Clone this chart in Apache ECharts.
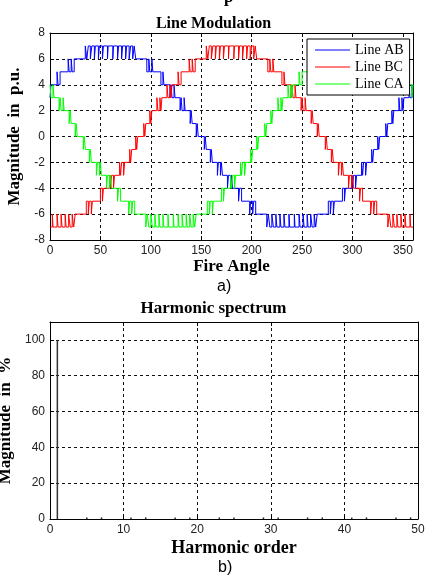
<!DOCTYPE html>
<html>
<head>
<meta charset="utf-8">
<title>Line Modulation</title>
<script src="https://cdn.jsdelivr.net/npm/echarts@6/dist/echarts.min.js"></script>
</head>
<body style="margin:0;padding:0;background:#fff;">
<div id="main" style="width:427px;height:575px;"></div>
<script type="text/javascript">
// step points [fire angle, level]; level holds until the next angle
var lineAB = [
[0,3],[1,4],[7,5],[8,4],[10,5],[18,6],[19,5],[21,6],[22,5],[24,6],
[35,7],[36.5,6],[38,7],[40,6],[41.5,7],[44,6],[45,7],[48,6],[49,7],[52,6],[53,7],[57,6],[57.7,7],[62.3,6],[63,7],[67,6],[68,7],[71,6],[72,7],[75,6],[76,7],[78.5,6],[80,7],[82,6],[83.5,7],[85,6],
[96,5],[98,6],[99,5],[101,6],[102,5],[110,4],[112,5],[113,4],[119,3],[120,4],[121,3],[123,4],[124,3],[129,2],[130,3],[131,2],[133,3],[134,2],[139,1],[140,2],[141,1],[145,0],[146,1],[147,0],
[153,-1],[154,0],[155,-1],[159,-2],[160,-1],[161,-2],[166,-3],[167,-2],[169,-3],[170,-2],[171,-3],[176,-4],[177,-3],[179,-4],[180,-3],[181,-4],[187,-5],[188,-4],[190,-5],[198,-6],[199,-5],[201,-6],[202,-5],[204,-6],
[215,-7],[216.5,-6],[218,-7],[220,-6],[221.5,-7],[224,-6],[225,-7],[228,-6],[229,-7],[232,-6],[233,-7],[237,-6],[237.7,-7],[242.3,-6],[243,-7],[247,-6],[248,-7],[251,-6],[252,-7],[255,-6],[256,-7],[258.5,-6],[260,-7],[262,-6],[263.5,-7],[265,-6],
[276,-5],[278,-6],[279,-5],[281,-6],[282,-5],[290,-4],[292,-5],[293,-4],[299,-3],[300,-4],[301,-3],[303,-4],[304,-3],[309,-2],[310,-3],[311,-2],[313,-3],[314,-2],[319,-1],[320,-2],[321,-1],[325,0],[326,-1],[327,0],
[333,1],[334,0],[335,1],[339,2],[340,1],[341,2],[346,3],[347,2],[349,3],[350,2],[351,3],[356,4],[357,3],[359,4],[360,3]
];
var lineBC = [
[0,-7],[2.3,-6],[3,-7],[7,-6],[8,-7],[11,-6],[12,-7],[15,-6],[16,-7],[18.5,-6],[20,-7],[22,-6],[23.5,-7],[25,-6],
[36,-5],[38,-6],[39,-5],[41,-6],[42,-5],[50,-4],[52,-5],[53,-4],[59,-3],[60,-4],[61,-3],[63,-4],[64,-3],[69,-2],[70,-3],[71,-2],[73,-3],[74,-2],[79,-1],[80,-2],[81,-1],[85,0],[86,-1],[87,0],
[93,1],[94,0],[95,1],[99,2],[100,1],[101,2],[106,3],[107,2],[109,3],[110,2],[111,3],[116,4],[117,3],[119,4],[120,3],[121,4],[127,5],[128,4],[130,5],[138,6],[139,5],[141,6],[142,5],[144,6],
[155,7],[156.5,6],[158,7],[160,6],[161.5,7],[164,6],[165,7],[168,6],[169,7],[172,6],[173,7],[177,6],[177.7,7],[182.3,6],[183,7],[187,6],[188,7],[191,6],[192,7],[195,6],[196,7],[198.5,6],[200,7],[202,6],[203.5,7],[205,6],
[216,5],[218,6],[219,5],[221,6],[222,5],[230,4],[232,5],[233,4],[239,3],[240,4],[241,3],[243,4],[244,3],[249,2],[250,3],[251,2],[253,3],[254,2],[259,1],[260,2],[261,1],[265,0],[266,1],[267,0],
[273,-1],[274,0],[275,-1],[279,-2],[280,-1],[281,-2],[286,-3],[287,-2],[289,-3],[290,-2],[291,-3],[296,-4],[297,-3],[299,-4],[300,-3],[301,-4],[307,-5],[308,-4],[310,-5],[318,-6],[319,-5],[321,-6],[322,-5],[324,-6],
[335,-7],[336.5,-6],[338,-7],[340,-6],[341.5,-7],[344,-6],[345,-7],[348,-6],[349,-7],[352,-6],[353,-7],[357,-6],[357.7,-7],[360,-7]
];
var lineCA = [
[0,4],[1,3],[3,4],[4,3],[9,2],[10,3],[11,2],[13,3],[14,2],[19,1],[20,2],[21,1],[25,0],[26,1],[27,0],
[33,-1],[34,0],[35,-1],[39,-2],[40,-1],[41,-2],[46,-3],[47,-2],[49,-3],[50,-2],[51,-3],[56,-4],[57,-3],[59,-4],[60,-3],[61,-4],[67,-5],[68,-4],[70,-5],[78,-6],[79,-5],[81,-6],[82,-5],[84,-6],
[95,-7],[96.5,-6],[98,-7],[100,-6],[101.5,-7],[104,-6],[105,-7],[108,-6],[109,-7],[112,-6],[113,-7],[117,-6],[117.7,-7],[122.3,-6],[123,-7],[127,-6],[128,-7],[131,-6],[132,-7],[135,-6],[136,-7],[138.5,-6],[140,-7],[142,-6],[143.5,-7],[145,-6],
[156,-5],[158,-6],[159,-5],[161,-6],[162,-5],[170,-4],[172,-5],[173,-4],[179,-3],[180,-4],[181,-3],[183,-4],[184,-3],[189,-2],[190,-3],[191,-2],[193,-3],[194,-2],[199,-1],[200,-2],[201,-1],[205,0],[206,-1],[207,0],
[213,1],[214,0],[215,1],[219,2],[220,1],[221,2],[226,3],[227,2],[229,3],[230,2],[231,3],[236,4],[237,3],[239,4],[240,3],[241,4],[247,5],[248,4],[250,5],[258,6],[259,5],[261,6],[262,5],[264,6],
[275,7],[276.5,6],[278,7],[280,6],[281.5,7],[284,6],[285,7],[288,6],[289,7],[292,6],[293,7],[297,6],[297.7,7],[302.3,6],[303,7],[307,6],[308,7],[311,6],[312,7],[315,6],[316,7],[318.5,6],[320,7],[322,6],[323.5,7],[325,6],
[336,5],[338,6],[339,5],[341,6],[342,5],[350,4],[352,5],[353,4],[359,3],[360,4]
];
var harmonicOrder = [1, 5, 7, 11, 13, 17, 19, 23, 25, 29, 31, 35, 37, 41, 43, 47, 49];
var harmonicMag = [100, 0.9, 0.9, 0.9, 0.9, 0.9, 0.9, 0.9, 0.9, 0.9, 0.9, 0.9, 0.9, 0.9, 0.9, 0.9, 0.9];

var serif = 'Liberation Serif';
var sans = 'Liberation Sans';
var gridDash = { color: '#111', width: 1, type: [3, 3] };
var tickIn = { show: true, inside: true, length: 4, lineStyle: { color: '#000' } };
var blackLine = { show: true, onZero: false, lineStyle: { color: '#000', width: 1 } };
var tickLabel = { color: '#222', fontSize: 12, fontFamily: sans, margin: 5, showMaxLabel: false };
var axisTitle = { color: '#000', fontSize: 17, fontWeight: 'bold', fontFamily: serif };

var myChart = echarts.init(document.getElementById('main'), null, { renderer: 'canvas' });

var option = {
    animation: false,
    backgroundColor: '#fff',
    title: [
        { text: 'Line Modulation', left: 'center', top: 11, textStyle: { fontSize: 16, fontWeight: 'bold', fontFamily: serif, color: '#000' } },
        { text: 'Harmonic spectrum', left: 'center', top: 295, textStyle: { fontSize: 17, fontWeight: 'bold', fontFamily: serif, color: '#000' } }
    ],
    legend: {
        data: ['Line AB', 'Line BC', 'Line CA'],
        orient: 'vertical',
        left: 307,
        top: 39,
        padding: [3, 6, 3, 8],
        itemGap: 1,
        itemWidth: 35,
        itemHeight: 1,
        icon: 'rect',
        backgroundColor: '#fff',
        borderColor: '#000',
        borderWidth: 1,
        textStyle: { fontFamily: serif, fontSize: 14, color: '#000', lineHeight: 16 }
    },
    grid: [
        { left: 50, right: 14, top: 33, height: 207, containLabel: false, outerBoundsMode: 'none' },
        { left: 50, right: 9, top: 322, height: 197, containLabel: false, outerBoundsMode: 'none' }
    ],
    xAxis: [
        {
            gridIndex: 0, type: 'value', min: 0, max: 360, interval: 50, position: 'bottom',
            name: 'Fire Angle', nameLocation: 'middle', nameGap: 18, nameTextStyle: axisTitle,
            axisLine: blackLine, axisTick: tickIn, axisLabel: tickLabel,
            splitLine: { show: true, lineStyle: gridDash }
        },
        {
            gridIndex: 0, type: 'value', min: 0, max: 360, interval: 50, position: 'top',
            axisLine: blackLine, axisTick: tickIn, axisLabel: { show: false }, splitLine: { show: false }
        },
        {
            gridIndex: 1, type: 'value', min: 0, max: 50, interval: 10, position: 'bottom',
            name: 'Harmonic order', nameLocation: 'middle', nameGap: 20,
            nameTextStyle: { color: '#000', fontSize: 18, fontWeight: 'bold', fontFamily: serif },
            axisLine: blackLine, axisTick: tickIn,
            axisLabel: { color: '#222', fontSize: 12, fontFamily: sans, margin: 5 },
            splitLine: { show: true, lineStyle: gridDash }
        },
        {
            gridIndex: 1, type: 'value', min: 0, max: 50, interval: 10, position: 'top',
            axisLine: blackLine, axisTick: tickIn, axisLabel: { show: false }, splitLine: { show: false }
        }
    ],
    yAxis: [
        {
            gridIndex: 0, type: 'value', min: -8, max: 8, interval: 2, position: 'left',
            name: 'Magnitude  in  p.u.', nameLocation: 'middle', nameGap: 22, nameTextStyle: axisTitle,
            axisLine: blackLine, axisTick: tickIn,
            axisLabel: { color: '#222', fontSize: 12, fontFamily: sans, margin: 5 },
            splitLine: { show: true, lineStyle: gridDash }
        },
        {
            gridIndex: 0, type: 'value', min: -8, max: 8, interval: 2, position: 'right',
            axisLine: blackLine, axisTick: tickIn, axisLabel: { show: false }, splitLine: { show: false }
        },
        {
            gridIndex: 1, type: 'value', min: 0, max: 110, interval: 20, position: 'left',
            name: 'Magnitude  in  %', nameLocation: 'middle', nameGap: 22, nameTextStyle: axisTitle,
            axisLine: blackLine, axisTick: tickIn, axisLabel: tickLabel,
            splitLine: { show: true, lineStyle: gridDash }
        },
        {
            gridIndex: 1, type: 'value', min: 0, max: 110, interval: 20, position: 'right',
            axisLine: blackLine, axisTick: tickIn, axisLabel: { show: false }, splitLine: { show: false }
        }
    ],
    graphic: [
        { type: 'text', left: 224, top: -11, style: { text: 'p', font: 'bold 17px "Liberation Serif"', fill: '#000' } },
        { type: 'text', left: 217, top: 279, style: { text: 'a)', font: '16px "Liberation Sans"', fill: '#000' } },
        { type: 'text', left: 218, top: 560, style: { text: 'b)', font: '16px "Liberation Sans"', fill: '#000' } }
    ],
    series: [
        { name: 'Line AB', type: 'line', xAxisIndex: 0, yAxisIndex: 0, step: 'end', showSymbol: false, symbol: 'none',
          color: '#0000ff', lineStyle: { width: 1, color: '#0000ff' }, data: lineAB },
        { name: 'Line BC', type: 'line', xAxisIndex: 0, yAxisIndex: 0, step: 'end', showSymbol: false, symbol: 'none',
          color: '#ff0000', lineStyle: { width: 1, color: '#ff0000' }, data: lineBC },
        { name: 'Line CA', type: 'line', xAxisIndex: 0, yAxisIndex: 0, step: 'end', showSymbol: false, symbol: 'none',
          color: '#00ff00', lineStyle: { width: 1, color: '#00ff00' }, data: lineCA },
        { name: 'Harmonics', type: 'bar', xAxisIndex: 2, yAxisIndex: 2, barWidth: 1.5,
          itemStyle: { color: '#333' },
          data: harmonicOrder.map(function (h, i) { return [h, harmonicMag[i]]; }) }
    ]
};
myChart.setOption(option);
</script>
</body>
</html>
